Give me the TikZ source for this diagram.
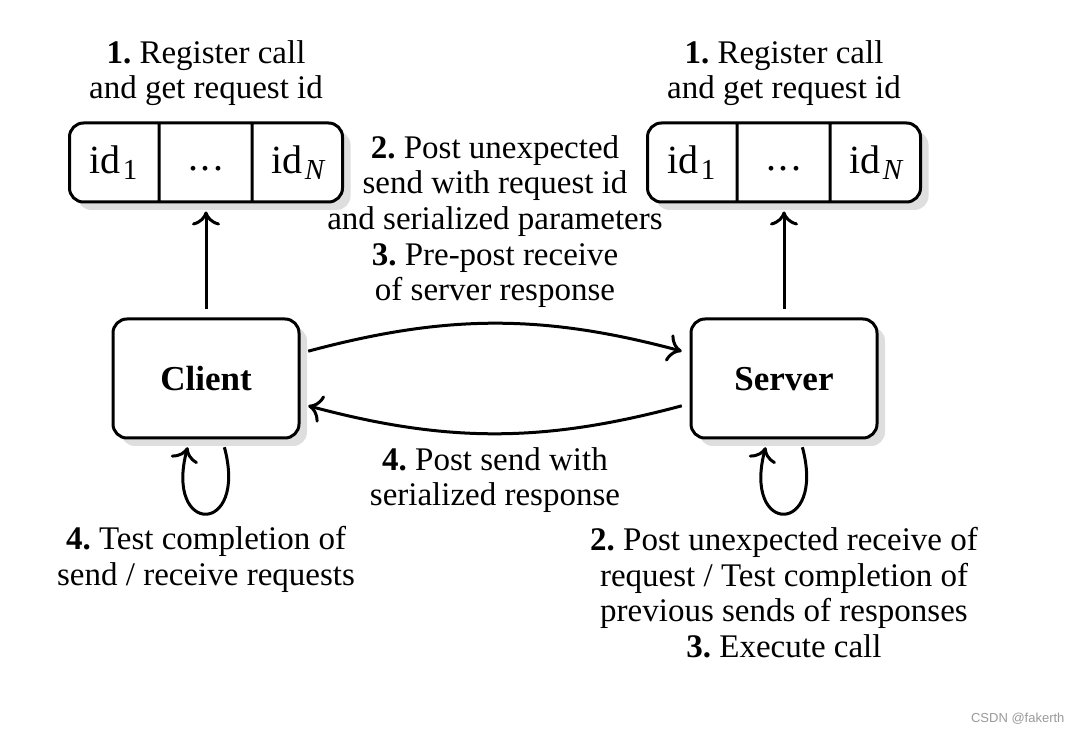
\documentclass[tikz,border=0pt]{standalone}
\usepackage{fontspec}
\setmainfont{Liberation Serif}
\newfontfamily\wmfont{Liberation Sans}
\usetikzlibrary{arrows.meta, positioning, shapes.multipart, shadows}
\newcommand{\idsub}[1]{id\kern2pt\raisebox{-6pt}{\fontsize{29}{30}\selectfont #1}}
\newcommand{\iddots}{\vphantom{\idsub{1}}\raisebox{3pt}{.\kern2.5pt.\kern2.5pt.}}

\begin{document}
\frenchspacing
\begin{tikzpicture}
    [
        x=1pt, y=1pt, node distance=216pt,
        font=\fontsize{33}{35.7}\selectfont,
        shade/.style={drop shadow={shadow xshift=8pt, shadow yshift=-8pt, fill=black!13, opacity=1}},
        party/.style={draw, line width=3pt, rounded corners=14pt, fill=white, shade,
            minimum width=186pt, minimum height=119pt, text height=24pt, text depth=0pt,
            font=\fontsize{35}{40}\selectfont\bfseries},
        idbuf/.style={draw, line width=3pt, rounded corners=14pt, fill=white, shade,
            rectangle split, rectangle split horizontal, rectangle split parts=3,
            inner xsep=0pt, minimum height=79pt, font=\fontsize{40}{42}\selectfont},
        note/.style={align=center}
    ]
    \tikzstyle{line} = [draw, -{To[length=14pt,width=28pt]}, line width=3pt, shorten <=8pt, shorten >=8pt]

    \useasboundingbox (0,0) rectangle (1076,734);

    \node[party] (client) at (206,355.5) {Client};
    \node[party, right of=client, node distance=578pt] (server) {Server};
    \node[idbuf, above of=client] (cbuf) {\makebox[88pt]{\idsub{1}}
        \nodepart{two}\makebox[90pt]{\iddots}
        \nodepart{three}\makebox[89pt]{\idsub{\itshape N}}};
    \node[idbuf, above of=server] (sbuf) {\makebox[88pt]{\idsub{1}}
        \nodepart{two}\makebox[90pt]{\iddots}
        \nodepart{three}\makebox[89pt]{\idsub{\itshape N}}};

    \node[note, above of=cbuf, node distance=89.5pt] (creg) {\textbf{1.} Register call\\and get request id};
    \node[note, above of=sbuf, node distance=89.5pt] (sreg) {\textbf{1.} Register call\\and get request id};
    \node[note] (post) at (495,512.5) {\textbf{2.} Post unexpected\\send with request id\\and serialized parameters\\\textbf{3.} Pre-post receive\\of server response};
    \node[note] (resp) at (495,254) {\textbf{4.} Post send with\\serialized response};
    \node[note, below of=client, node distance=181pt] (ctest) {\textbf{4.} Test completion of\\send / receive requests};
    \node[note, below of=server, node distance=214pt] (stest) {\textbf{2.} Post unexpected receive of\\request / Test completion of\\previous sends of responses\\\textbf{3.} Execute call};

    \path[line] (client) edge (cbuf);
    \path[line] (server) edge (sbuf);
    \path[line] (client) edge[bend left=15] (server);
    \path[line] (server) edge[bend left=15] (client);
    \path[line] (client) edge[loop, out=-75, in=-105, min distance=100pt] (client);
    \path[line] (server) edge[loop, out=-75, in=-105, min distance=100pt] (server);

    \node[anchor=east, font=\wmfont\fontsize{13}{15}\selectfont, text=black!40] (wm) at (1068,15) {CSDN @fakerth};
\end{tikzpicture}
\end{document}
